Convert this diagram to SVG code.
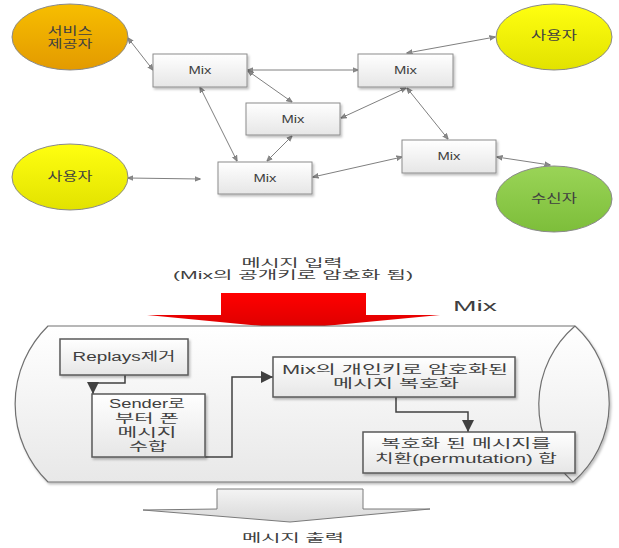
<svg xmlns="http://www.w3.org/2000/svg" width="619" height="548" viewBox="0 0 619 548">
<defs>
<linearGradient id="gOrange" x1="0" y1="0" x2="0" y2="1"><stop offset="0" stop-color="#F7BE00"/><stop offset="1" stop-color="#E39A00"/></linearGradient>
<linearGradient id="gYellow" x1="0" y1="0" x2="0" y2="1"><stop offset="0" stop-color="#FFFF10"/><stop offset="1" stop-color="#E2E200"/></linearGradient>
<linearGradient id="gGreen" x1="0" y1="0" x2="0" y2="1"><stop offset="0" stop-color="#9AD457"/><stop offset="1" stop-color="#7DBE3A"/></linearGradient>
<linearGradient id="gBox" x1="0" y1="0" x2="0" y2="1"><stop offset="0" stop-color="#FFFFFF"/><stop offset="1" stop-color="#E6E6E6"/></linearGradient>
<linearGradient id="gCont" x1="0" y1="0" x2="0" y2="1"><stop offset="0" stop-color="#FFFFFF"/><stop offset="1" stop-color="#E8E8E8"/></linearGradient>
<linearGradient id="gRed" x1="0" y1="0" x2="0" y2="1"><stop offset="0" stop-color="#FF0000"/><stop offset="1" stop-color="#DC0000"/></linearGradient>
<linearGradient id="gOut" x1="0" y1="0" x2="0" y2="1"><stop offset="0" stop-color="#F4F4F4"/><stop offset="1" stop-color="#D8D8D8"/></linearGradient>
<filter id="sh" x="-10%" y="-10%" width="130%" height="140%"><feDropShadow dx="1.5" dy="2" stdDeviation="1.2" flood-color="#000" flood-opacity="0.25"/></filter>
<marker id="ah" viewBox="0 0 10 10" refX="9" refY="5" markerWidth="6" markerHeight="6" markerUnits="userSpaceOnUse" orient="auto-start-reverse"><path d="M0,1 L10,5 L0,9 Z" fill="#8A8A8A" stroke="#6A6A6A" stroke-width="1"/></marker>
<marker id="ah2" viewBox="0 0 10 10" refX="10" refY="5" markerWidth="14" markerHeight="12" markerUnits="userSpaceOnUse" orient="auto"><path d="M0,0 L10,5 L0,10 Z" fill="#404040"/></marker>
</defs>
<style>
.t{font-family:"Liberation Sans","Noto Sans CJK KR",sans-serif;fill:#404040;text-anchor:middle;dominant-baseline:central}
.el{stroke:#8A8A8A;stroke-width:1}
.mix{fill:url(#gBox);stroke:#8C8C8C;stroke-width:1}
.c{fill:none;stroke:#808080;stroke-width:1;marker-start:url(#ah);marker-end:url(#ah)}
.ib{fill:url(#gBox);stroke:#5A5A5A;stroke-width:1.5}
.ic{fill:none;stroke:#404040;stroke-width:1.5;marker-end:url(#ah2)}
</style>

<g id="connectors">
<line class="c" x1="128" y1="38" x2="153" y2="70"/>
<line class="c" x1="248" y1="70" x2="358" y2="70"/>
<line class="c" x1="248" y1="71" x2="292" y2="102"/>
<line class="c" x1="200" y1="87" x2="237" y2="161"/>
<line class="c" x1="292" y1="136" x2="267" y2="161"/>
<line class="c" x1="128" y1="178" x2="200" y2="179"/>
<line class="c" x1="406" y1="88" x2="341" y2="118"/>
<line class="c" x1="407" y1="88" x2="448" y2="139"/>
<line class="c" x1="407" y1="53" x2="495" y2="37"/>
<line class="c" x1="313" y1="177" x2="402" y2="157"/>
<line class="c" x1="497" y1="157" x2="550" y2="165"/>
</g>

<g id="provider">
<ellipse class="el" cx="70" cy="37" rx="58" ry="33" fill="url(#gOrange)"/>
<text class="t" x="70" y="31" font-size="11" textLength="45" lengthAdjust="spacingAndGlyphs">서비스</text>
<text class="t" x="70" y="44" font-size="11" textLength="45" lengthAdjust="spacingAndGlyphs">제공자</text>
</g>
<g id="user-left">
<ellipse class="el" cx="70" cy="177" rx="58" ry="33" fill="url(#gYellow)"/>
<text class="t" x="70" y="177" font-size="12" textLength="45" lengthAdjust="spacingAndGlyphs">사용자</text>
</g>
<g id="user-right">
<ellipse class="el" cx="554" cy="37" rx="58" ry="33" fill="url(#gYellow)"/>
<text class="t" x="554" y="36" font-size="12" textLength="46" lengthAdjust="spacingAndGlyphs">사용자</text>
</g>
<g id="receiver">
<ellipse class="el" cx="554" cy="199" rx="58" ry="33" fill="url(#gGreen)"/>
<text class="t" x="554" y="199" font-size="12" textLength="46" lengthAdjust="spacingAndGlyphs">수신자</text>
</g>

<g id="mix1"><rect class="mix" x="153" y="54" width="94" height="33" filter="url(#sh)"/><text class="t" x="200" y="70.5" font-size="10" textLength="23" lengthAdjust="spacingAndGlyphs">Mix</text></g>
<g id="mix2"><rect class="mix" x="246" y="103" width="94" height="32" filter="url(#sh)"/><text class="t" x="293" y="119" font-size="10" textLength="23" lengthAdjust="spacingAndGlyphs">Mix</text></g>
<g id="mix3"><rect class="mix" x="218" y="162" width="94" height="32" filter="url(#sh)"/><text class="t" x="265" y="178" font-size="10" textLength="23" lengthAdjust="spacingAndGlyphs">Mix</text></g>
<g id="mix4"><rect class="mix" x="358" y="54" width="95" height="33" filter="url(#sh)"/><text class="t" x="405.5" y="70.5" font-size="10" textLength="23" lengthAdjust="spacingAndGlyphs">Mix</text></g>
<g id="mix5"><rect class="mix" x="402" y="140" width="94" height="33" filter="url(#sh)"/><text class="t" x="449" y="156.5" font-size="10" textLength="23" lengthAdjust="spacingAndGlyphs">Mix</text></g>

<g id="input-label">
<text class="t" x="292" y="263" font-size="11" textLength="101" lengthAdjust="spacingAndGlyphs">메시지 입력</text>
<text class="t" x="293" y="275" font-size="11" textLength="240" lengthAdjust="spacingAndGlyphs">(Mix의 공개키로 암호화 됨)</text>
</g>
<g id="input-arrow">
<path d="M221,293 L366,293 L366,315 L440,315 L293,329 L147,315 L221,315 Z" fill="url(#gRed)"/>
</g>
<g id="mix-label">
<text class="t" x="475" y="305" font-size="15" textLength="44" lengthAdjust="spacingAndGlyphs">Mix</text>
</g>

<g id="mix-container">
<path d="M48,326 L575,326 A104,104 0 0 1 573,482 L48,482 A109,109 0 0 1 48,326 Z" fill="url(#gCont)" stroke="#707070" stroke-width="1.2" filter="url(#sh)"/>
<path d="M575,326 A104,104 0 0 0 573,482" fill="none" stroke="#707070" stroke-width="1.2"/>
</g>

<g id="step-connectors">
<polyline class="ic" points="125,375 125,383 93,383 93,394"/>
<polyline class="ic" points="205,457 232,457 232,377 273,377"/>
<polyline class="ic" points="396,397 396,412 468,412 468,432"/>
</g>

<g id="replays">
<rect class="ib" x="60" y="339" width="128" height="36" filter="url(#sh)"/>
<text class="t" x="124" y="357" font-size="12" textLength="103" lengthAdjust="spacingAndGlyphs">Replays제거</text>
</g>
<g id="collect">
<rect class="ib" x="92" y="394" width="113" height="63" filter="url(#sh)"/>
<text class="t" x="147" y="404" font-size="12" textLength="76" lengthAdjust="spacingAndGlyphs">Sender로</text>
<text class="t" x="147" y="419" font-size="12" textLength="64" lengthAdjust="spacingAndGlyphs">부터 폰</text>
<text class="t" x="147" y="433" font-size="12" textLength="59" lengthAdjust="spacingAndGlyphs">메시지</text>
<text class="t" x="148" y="447" font-size="12" textLength="38" lengthAdjust="spacingAndGlyphs">수합</text>
</g>
<g id="decrypt">
<rect class="ib" x="273" y="357" width="242" height="40" filter="url(#sh)"/>
<text class="t" x="395" y="370" font-size="12" textLength="226" lengthAdjust="spacingAndGlyphs">Mix의 개인키로 암호화된</text>
<text class="t" x="396" y="384" font-size="12" textLength="126" lengthAdjust="spacingAndGlyphs">메시지 복호화</text>
</g>
<g id="permute">
<rect class="ib" x="363" y="432" width="212" height="41" filter="url(#sh)"/>
<text class="t" x="466" y="444" font-size="12" textLength="170" lengthAdjust="spacingAndGlyphs">복호화 된 메시지를</text>
<text class="t" x="466" y="459" font-size="12" textLength="182" lengthAdjust="spacingAndGlyphs">치환(permutation) 합</text>
</g>

<g id="output-arrow">
<path d="M217,489 L363,489 L363,509 L430,509 L290,522 L143,510 L217,509 Z" fill="url(#gOut)" stroke="#7A7A7A" stroke-width="1"/>
</g>
<g id="output-label">
<text class="t" x="293" y="538" font-size="11" textLength="102" lengthAdjust="spacingAndGlyphs">메시지 출력</text>
</g>
</svg>
